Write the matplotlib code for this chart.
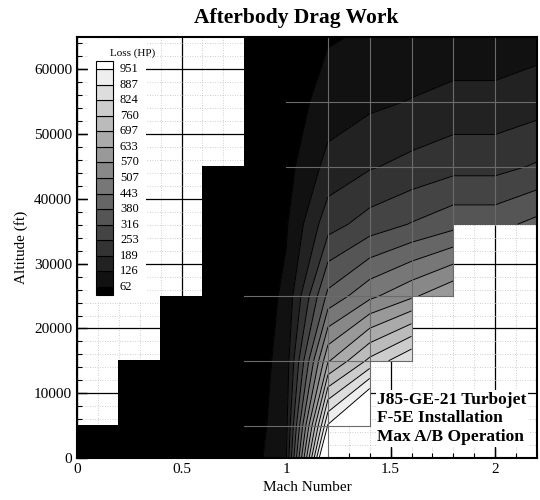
import numpy as np
import matplotlib.pyplot as plt

plt.rcParams['font.family'] = ['Liberation Serif', 'DejaVu Serif']

# Mach / altitude nodes of the survey grid
mach = [0.0, 0.2, 0.4, 0.6, 0.8, 1.0, 1.2, 1.4, 1.6, 1.8, 2.0, 2.2]
altitude = [0, 5000, 15000, 25000, 36089, 45000, 55000, 65000]

nan = np.nan
# afterbody drag work (HP) per altitude row, nan = no data
loss_0k = [0, 1, 4, 8, 15, 120, 1170, nan, nan, nan, nan, nan]
loss_5k = [0, 1, 3, 7, 12, 105, 957, 1186, nan, nan, nan, nan]
loss_15k = [nan, 1, 2, 5, 9, 90, 626, 776, 883, nan, nan, nan]
loss_25k = [nan, nan, 1, 3, 6, 75, 397, 492, 559, 627, nan, nan]
loss_36k = [nan, nan, nan, 2, 4, 55, 227, 281, 320, 358, 358, 399]
loss_45k = [nan, nan, nan, 1, 3, 38, 147, 183, 208, 233, 233, 260]
loss_55k = [nan, nan, nan, nan, 2, 24, 91, 113, 129, 144, 144, 161]
loss_65k = [nan, nan, nan, nan, 1, 14, 56, 70, 80, 89, 89, 99]

levels_hp = [62, 126, 189, 253, 316, 380, 443, 507, 570, 633, 697, 760, 824, 887, 951]

loss = np.ma.masked_invalid(np.array([loss_0k, loss_5k, loss_15k, loss_25k,
                                      loss_36k, loss_45k, loss_55k, loss_65k]))
M, H = np.meshgrid(mach, altitude)

bounds = [0] + levels_hp + [5000]
grays = [str(k / 15) for k in range(16)]

fig = plt.figure(figsize=(5.4, 5.0), dpi=100)
ax = fig.add_axes([77 / 540, 42 / 500, 460 / 540, 421 / 500])

ax.set_axisbelow(True)
ax.set_xticks(np.arange(0, 2.21, 0.5))
ax.set_xticks(np.arange(0, 2.21, 0.1), minor=True)
ax.set_yticks(np.arange(0, 65001, 10000))
ax.set_yticks(np.arange(0, 65001, 2000), minor=True)
ax.grid(which='major', color='k', lw=0.9)
ax.grid(which='minor', color='0.75', lw=0.6, ls=(0, (1, 2)))

ax.contourf(M, H, loss, levels=bounds, colors=grays, corner_mask=False)
ax.contour(M, H, loss, levels=levels_hp, colors='k', linewidths=0.7,
           corner_mask=False)

# grid mesh lines over the data
for m in [1.2, 1.4, 1.6, 1.8, 2.0]:
    col = np.array(mach) == m
    ok = ~loss.mask[:, col].ravel()
    hs = np.array(altitude)[ok]
    ax.plot([m, m], [hs.min(), hs.max()], color='0.42', lw=0.8)
for h, m0 in [(5000, 0.8), (15000, 0.8), (25000, 0.8), (45000, 1.0), (55000, 1.0)]:
    row = np.array(altitude) == h
    ok = ~loss.mask[row, :].ravel()
    ms = np.array(mach)[ok]
    ax.plot([m0, ms.max()], [h, h], color='0.42', lw=0.8)

ax.set_xlim(0, 2.2)
ax.set_ylim(0, 65000)
ax.tick_params(which='both', direction='in', top=False, right=False, labelsize=11)
ax.tick_params(which='major', length=7, width=1)
ax.tick_params(which='minor', length=3.5, width=0.8)
for s in ax.spines.values():
    s.set_linewidth(1.5)
ax.set_xticklabels(['0', '0.5', '1', '1.5', '2'])
ax.set_xlabel('Mach Number', fontsize=11, labelpad=4)
ax.set_ylabel('Altitude (ft)', fontsize=11, labelpad=4)
fig.text(296 / 540, 1 - 18 / 500, 'Afterbody Drag Work', fontsize=15.5,
         fontweight='bold', ha='center', va='center')

ax.text(1.435, 6100, 'J85-GE-21 Turbojet\nF-5E Installation\nMax A/B Operation',
        fontsize=12.5, fontweight='bold', va='center', ha='left', linespacing=1.22,
        bbox=dict(facecolor='white', edgecolor='none', pad=1), zorder=5)

# contour legend, laid out in pixel units
lg = fig.add_axes([88 / 540, 1 - 302 / 500, 58 / 540, 262 / 500])
lg.set_xlim(88, 146)
lg.set_ylim(302, 40)
lg.axis('off')
lg.add_patch(plt.Rectangle((88, 40), 58, 262, color='white', zorder=0))
step = 15.57
top = 69
n = len(levels_hp)
for k in range(n + 1):
    y_hi = top + (n - 1 - k) * step + step
    y_lo = y_hi - step
    if k == n:
        y_lo = top - step / 2
    if k == 0:
        y_hi = top + (n - 1) * step + step / 2
    lg.add_patch(plt.Rectangle((96, y_lo), 17, y_hi - y_lo, facecolor=grays[k],
                               edgecolor='k', lw=0.8))
for k, v in enumerate(levels_hp):
    lg.text(120, top + (n - 1 - k) * step, str(v), fontsize=9, va='center', ha='left')
lg.text(133, 53, 'Loss (HP)', fontsize=8, ha='center', va='center')

fig.savefig('out.png', dpi=100)
